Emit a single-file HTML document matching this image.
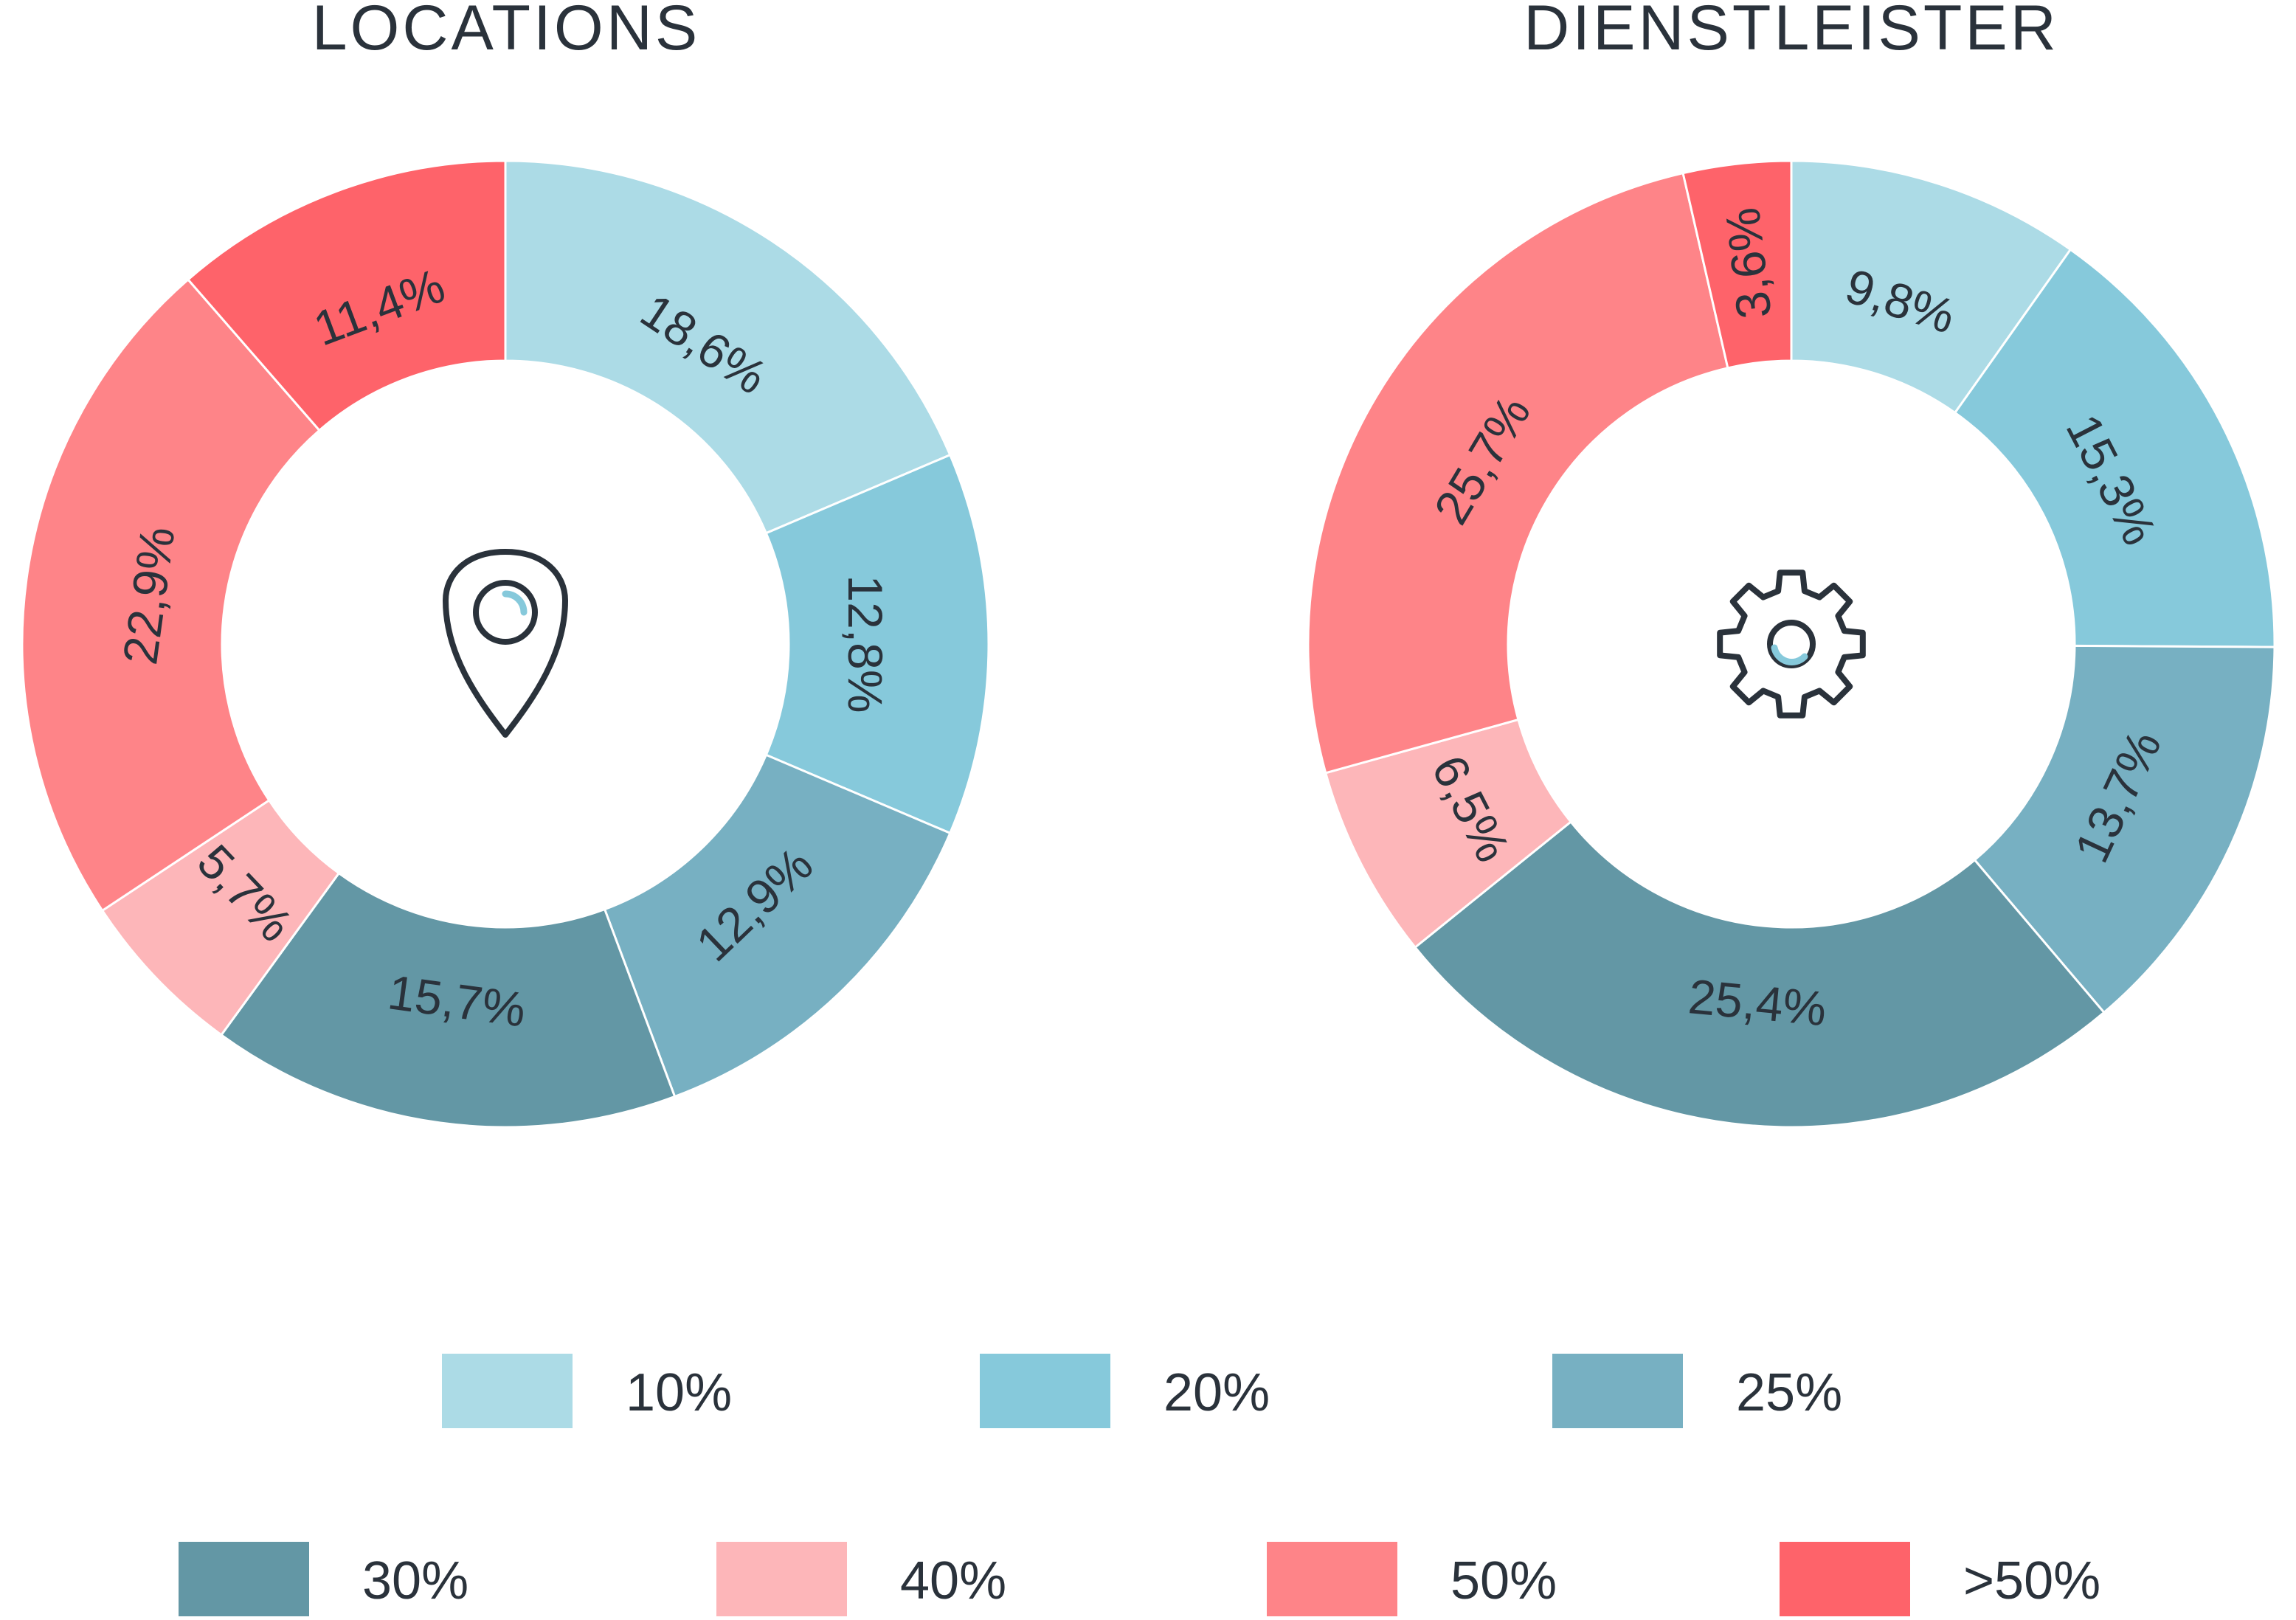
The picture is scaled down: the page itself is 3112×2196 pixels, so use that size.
<!DOCTYPE html>
<html><head><meta charset="utf-8">
<style>
html,body{margin:0;padding:0;background:#fff;}
body{width:3112px;height:2191px;overflow:hidden;font-family:"Liberation Sans",sans-serif;}
</style></head>
<body>
<svg id="chart" width="3112" height="2191" viewBox="0 0 3112 2191" xmlns="http://www.w3.org/2000/svg">
<text x="686" y="67" text-anchor="middle" font-size="86" fill="#2a323b" letter-spacing="4" font-family="Liberation Sans, sans-serif">LOCATIONS</text>
<text x="2428" y="67" text-anchor="middle" font-size="86" fill="#2a323b" letter-spacing="4" font-family="Liberation Sans, sans-serif">DIENSTLEISTER</text>
<g id="donuts"></g>
<g fill="none" stroke="#2a323b" stroke-width="8" stroke-linecap="round" stroke-linejoin="round">
<path d="M685 996 C646 946 604 886 604 814 C604 779 632 748 685 748 C738 748 766 779 766 814 C766 886 724 946 685 996 Z"/>
<circle cx="685" cy="830" r="40"/>
<path d="M685 805 A25 25 0 0 1 710 830" stroke="#86c9db" stroke-width="9"/>
</g>
<g fill="none" stroke="#2a323b" stroke-width="8" stroke-linejoin="round">
<path id="gearpath"/>
<circle cx="2428" cy="873" r="29"/>
<path d="M2405 878 A24 24 0 0 0 2446 890" stroke="#86c9db" stroke-width="9" stroke-linecap="round"/>
</g>
<g id="legend"></g>
</svg>
<script>
const categories = ["10%","20%","25%","30%","40%","50%",">50%"];
const colors = ["#acdbe6","#86c9db","#77b0c2","#6397a5","#fdb6b9","#fe8488","#fe636a"];
const locationsValues = [18.6,12.8,12.9,15.7,5.7,22.9,11.4];
const dienstValues = [9.8,15.3,13.7,25.4,6.5,25.7,3.6];
const NS="http://www.w3.org/2000/svg";
const R=655, r=384, LR=488;
function pt(cx,cy,rad,a){const t=(a-90)*Math.PI/180;return [cx+rad*Math.cos(t),cy+rad*Math.sin(t)];}
function donut(cx,cy,vals,name){
  const g=document.getElementById('donuts');
  const total=vals.reduce((a,b)=>a+b,0);
  let cum=0;
  vals.forEach((v,i)=>{
    const a0=cum/total*360, a1=(cum+v)/total*360; cum+=v;
    const large=(a1-a0)>180?1:0;
    const p0=pt(cx,cy,R,a0),p1=pt(cx,cy,R,a1),q1=pt(cx,cy,r,a1),q0=pt(cx,cy,r,a0);
    const p=document.createElementNS(NS,'path');
    p.setAttribute('d',`M${p0[0]} ${p0[1]} A${R} ${R} 0 ${large} 1 ${p1[0]} ${p1[1]} L${q1[0]} ${q1[1]} A${r} ${r} 0 ${large} 0 ${q0[0]} ${q0[1]} Z`);
    p.setAttribute('fill',colors[i]);p.setAttribute('stroke','#fff');p.setAttribute('stroke-width','3');
    
    
    g.appendChild(p);
    const mid=(a0+a1)/2;
    const small=v<5;
    const c=pt(cx,cy,small?(R+r)/2:LR,mid);
    let rot;
    if(small){ rot=mid-90; while(rot>90) rot-=180; while(rot<-90) rot+=180; if(mid>180 && rot>0) rot-=180; }
    else { rot=mid; if(mid>90&&mid<270) rot=mid-180; else if(mid>=270) rot=mid-360; }
    const t=document.createElementNS(NS,'text');
    t.setAttribute('x',c[0]);t.setAttribute('y',c[1]);
    t.setAttribute('text-anchor','middle');t.setAttribute('dominant-baseline','central');
    t.setAttribute('font-size','66');t.setAttribute('fill','#2a323b');
    t.setAttribute('font-family','Liberation Sans, sans-serif');
    t.setAttribute('transform',`rotate(${rot} ${c[0]} ${c[1]})`);
    t.textContent=v.toFixed(1).replace('.',',')+'%';
    
    
    g.appendChild(t);
  });
}
donut(685,873,locationsValues,'locations');
donut(2428,873,dienstValues,'dienstleister');
(function(){
  const cx=2428,cy=873,ro=98,ri=74,n=8;let d='';
  for(let k=0;k<n;k++){
    const base=k*360/n;
    const pts=[[ri,base-14],[ro,base-9],[ro,base+9],[ri,base+14]];
    pts.forEach((q,j)=>{const p=pt(cx,cy,q[0],q[1]);d+=(k===0&&j===0?'M':'L')+p[0].toFixed(1)+' '+p[1].toFixed(1)+' ';});
  }
  document.getElementById('gearpath').setAttribute('d',d+'Z');
})();
const legendX=[599,1328,2104,242,971,1717,2412];
const legendY=[1835,1835,1835,2090,2090,2090,2090];
const lg=document.getElementById('legend');
categories.forEach((c,i)=>{
  const rc=document.createElementNS(NS,'rect');
  rc.setAttribute('x',legendX[i]);rc.setAttribute('y',legendY[i]);rc.setAttribute('width',177);rc.setAttribute('height',101);
  rc.setAttribute('fill',colors[i]);
  
  
  lg.appendChild(rc);
  const t=document.createElementNS(NS,'text');
  t.setAttribute('x',legendX[i]+249);t.setAttribute('y',legendY[i]+77);
  t.setAttribute('font-size','72');t.setAttribute('fill','#2a323b');
  t.setAttribute('font-family','Liberation Sans, sans-serif');
  t.textContent=c;
  
  
  lg.appendChild(t);
});
</script>
</body></html>
